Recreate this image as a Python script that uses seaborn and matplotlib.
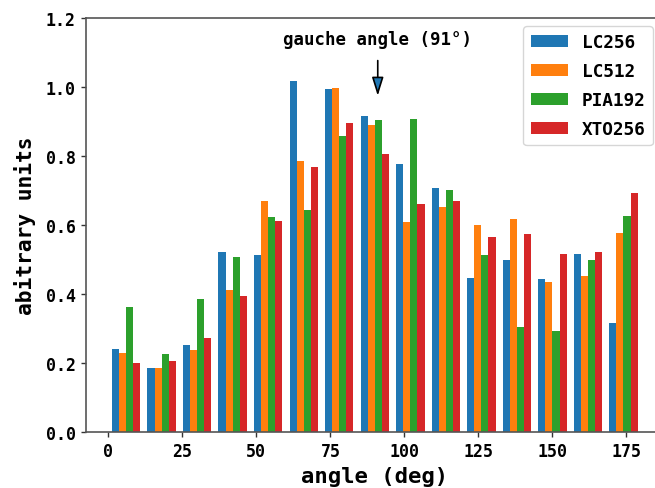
import numpy as np
import pandas as pd
import matplotlib
matplotlib.use("Agg")
import matplotlib.pyplot as plt
import seaborn as sns
from matplotlib.patches import Patch

# ---- data ----
series_names = ["LC256", "LC512", "PIA192", "XTO256"]
bin_centers = [6, 18, 30, 42, 54, 66, 78, 90, 102, 114, 126, 138, 150, 162, 174]
lc256  = [0.241, 0.185, 0.254, 0.523, 0.514, 1.017, 0.996, 0.917, 0.777, 0.707, 0.447, 0.500, 0.444, 0.516, 0.316]
lc512  = [0.229, 0.185, 0.238, 0.413, 0.670, 0.785, 0.998, 0.889, 0.610, 0.654, 0.601, 0.619, 0.435, 0.454, 0.577]
pia192 = [0.363, 0.226, 0.385, 0.507, 0.623, 0.645, 0.858, 0.904, 0.908, 0.701, 0.513, 0.304, 0.294, 0.499, 0.626]
xto256 = [0.200, 0.207, 0.272, 0.394, 0.613, 0.770, 0.896, 0.805, 0.661, 0.670, 0.566, 0.574, 0.516, 0.523, 0.692]
xticks = [0, 25, 50, 75, 100, 125, 150, 175]
yticks = [0.0, 0.2, 0.4, 0.6, 0.8, 1.0, 1.2]
annot_text = "gauche angle (91°)"
annot_angle = 91

values = [lc256, lc512, pia192, xto256]
df = pd.DataFrame({
    "angle": np.tile(bin_centers, len(series_names)),
    "value": np.concatenate(values),
    "series": np.repeat(series_names, len(bin_centers)),
})

colors = ["#1f77b4", "#ff7f0e", "#2ca02c", "#d62728"]
mono = "DejaVu Sans Mono"
plt.rcParams["font.family"] = mono
plt.rcParams["font.weight"] = "bold"

fig = plt.figure(figsize=(6.55, 4.89), dpi=100)
ax = fig.add_axes([0.1307, 0.1139, 0.883, 0.847])

sns.histplot(data=df, x="angle", weights="value", hue="series",
             hue_order=series_names, palette=colors, binwidth=12,
             binrange=(0, 180),
             multiple="dodge", shrink=0.8, stat="count", alpha=1,
             linewidth=0, legend=False, ax=ax)

ax.set_xlim(-7.68, 187.68)
ax.set_ylim(0, 1.2)
ax.set_xticks(xticks)
ax.set_yticks(yticks)
ax.set_yticklabels([f"{t:.1f}" for t in yticks])
ax.tick_params(labelsize=12, colors="#333333", length=3.5, width=1)
for lab in ax.get_xticklabels() + ax.get_yticklabels():
    lab.set_fontweight("bold")
    lab.set_color("black")
for s in ["left", "bottom", "top"]:
    ax.spines[s].set_color("#555555")
    ax.spines[s].set_linewidth(1.2)
ax.spines["right"].set_visible(False)

ax.set_xlabel("angle (deg)", fontsize=16, fontweight="bold", labelpad=4)
ax.set_ylabel("abitrary units", fontsize=15.3, fontweight="bold", labelpad=7)

ax.text(annot_angle, 1.14, annot_text, ha="center", va="center",
        fontsize=12.5, fontweight="bold")
ax.annotate("", xy=(annot_angle, 0.975), xytext=(annot_angle, 1.077),
            arrowprops=dict(arrowstyle="-|>,head_length=0.8,head_width=0.25",
                            fc=colors[0], ec="black", lw=1.2,
                            mutation_scale=14, shrinkA=0, shrinkB=0))

handles = [Patch(facecolor=c, label=n) for c, n in zip(colors, series_names)]
leg = ax.legend(handles=handles, loc="upper right",
                bbox_to_anchor=(0.981, 0.981), borderaxespad=0.0,
                labelspacing=0.62, handlelength=2.1,
                prop={"family": mono, "weight": "bold", "size": 12.8})

fig.savefig("out.png", dpi=100)
